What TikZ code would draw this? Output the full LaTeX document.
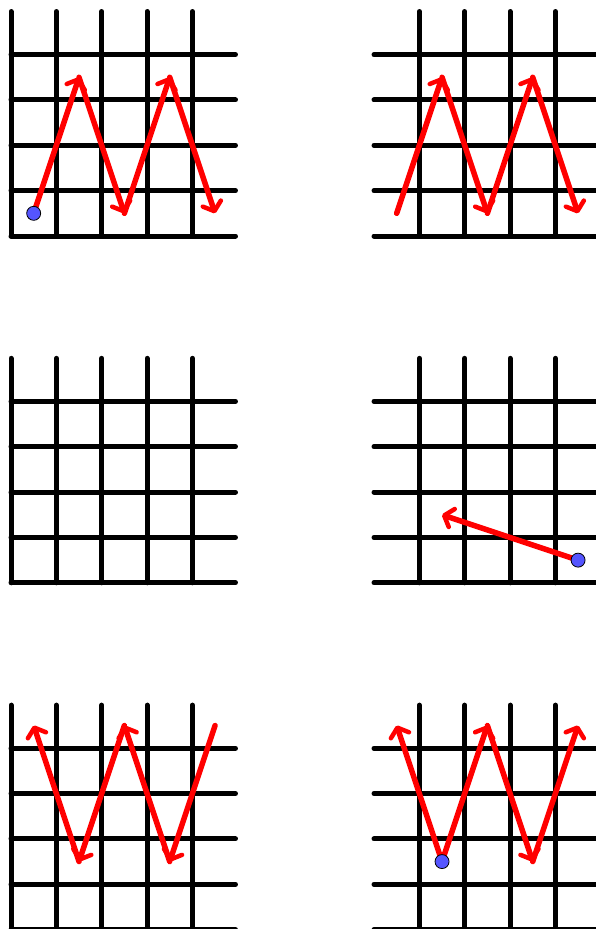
\documentclass[tikz,border=0pt]{standalone}
\usetikzlibrary{arrows.meta}
\definecolor{dotblue}{RGB}{85,85,255}
\tikzset{
  gridline/.style={line width=5pt, line cap=round, black},
  redarrow/.style={line width=5.5pt, red, line cap=round, -{Straight Barb[length=8pt,width=19pt,line width=4.5pt,round]}},
  dotnode/.style={circle, fill=dotblue, draw=black, line width=0.8pt, minimum size=14pt, inner sep=0pt},
}
\newcommand\mygrid[1]{%
  \foreach \k in {#1,...,4} \draw[gridline] (\k,0) -- (\k,4.95);
  \foreach \k in {0,...,4} \draw[gridline] (0,\k) -- (4.95,\k);
}
\begin{document}
\begin{tikzpicture}[x=1pt,y=-1pt]
\useasboundingbox (0,0) rectangle (595,929);
% top left
\begin{scope}[shift={(11,236)},x=45.35pt,y=45.35pt]
  \mygrid{0}
  \coordinate (a0) at (0.5,0.5);
  \coordinate (a1) at (1.5,3.5);
  \coordinate (a2) at (2.5,0.5);
  \coordinate (a3) at (3.5,3.5);
  \coordinate (a4) at (4.5,0.5);
  \draw[redarrow] (a0) -- (a1);
  \draw[redarrow] (a1) -- (a2);
  \draw[redarrow] (a2) -- (a3);
  \draw[redarrow] (a3) -- (a4);
  \node[dotnode] (da) at (a0) {};
\end{scope}
% top right
\begin{scope}[shift={(374,236)},x=45.35pt,y=45.35pt]
  \mygrid{1}
  \coordinate (b0) at (0.5,0.5);
  \coordinate (b1) at (1.5,3.5);
  \coordinate (b2) at (2.5,0.5);
  \coordinate (b3) at (3.5,3.5);
  \coordinate (b4) at (4.5,0.5);
  \draw[redarrow] (b0) -- (b1);
  \draw[redarrow] (b1) -- (b2);
  \draw[redarrow] (b2) -- (b3);
  \draw[redarrow] (b3) -- (b4);
\end{scope}
% middle left
\begin{scope}[shift={(11,582.8)},x=45.35pt,y=45.35pt]
  \mygrid{0}
\end{scope}
% middle right
\begin{scope}[shift={(374,582.8)},x=45.35pt,y=45.35pt]
  \mygrid{1}
  \coordinate (c0) at (4.5,0.5);
  \coordinate (c1) at (1.5,1.5);
  \draw[redarrow] (c0) -- (c1);
  \node[dotnode] (dc) at (c0) {};
\end{scope}
% bottom left
\begin{scope}[shift={(11,929.6)},x=45.35pt,y=45.35pt]
  \mygrid{0}
  \coordinate (e0) at (4.5,4.5);
  \coordinate (e1) at (3.5,1.5);
  \coordinate (e2) at (2.5,4.5);
  \coordinate (e3) at (1.5,1.5);
  \coordinate (e4) at (0.5,4.5);
  \draw[redarrow] (e0) -- (e1);
  \draw[redarrow] (e1) -- (e2);
  \draw[redarrow] (e2) -- (e3);
  \draw[redarrow] (e3) -- (e4);
\end{scope}
% bottom right
\begin{scope}[shift={(374,929.6)},x=45.35pt,y=45.35pt]
  \mygrid{1}
  \coordinate (f0) at (1.5,1.5);
  \coordinate (f1) at (0.5,4.5);
  \coordinate (f2) at (2.5,4.5);
  \coordinate (f3) at (3.5,1.5);
  \coordinate (f4) at (4.5,4.5);
  \draw[redarrow] (f0) -- (f1);
  \draw[redarrow] (f0) -- (f2);
  \draw[redarrow] (f2) -- (f3);
  \draw[redarrow] (f3) -- (f4);
  \node[dotnode] (df) at (f0) {};
\end{scope}
\end{tikzpicture}
\end{document}
